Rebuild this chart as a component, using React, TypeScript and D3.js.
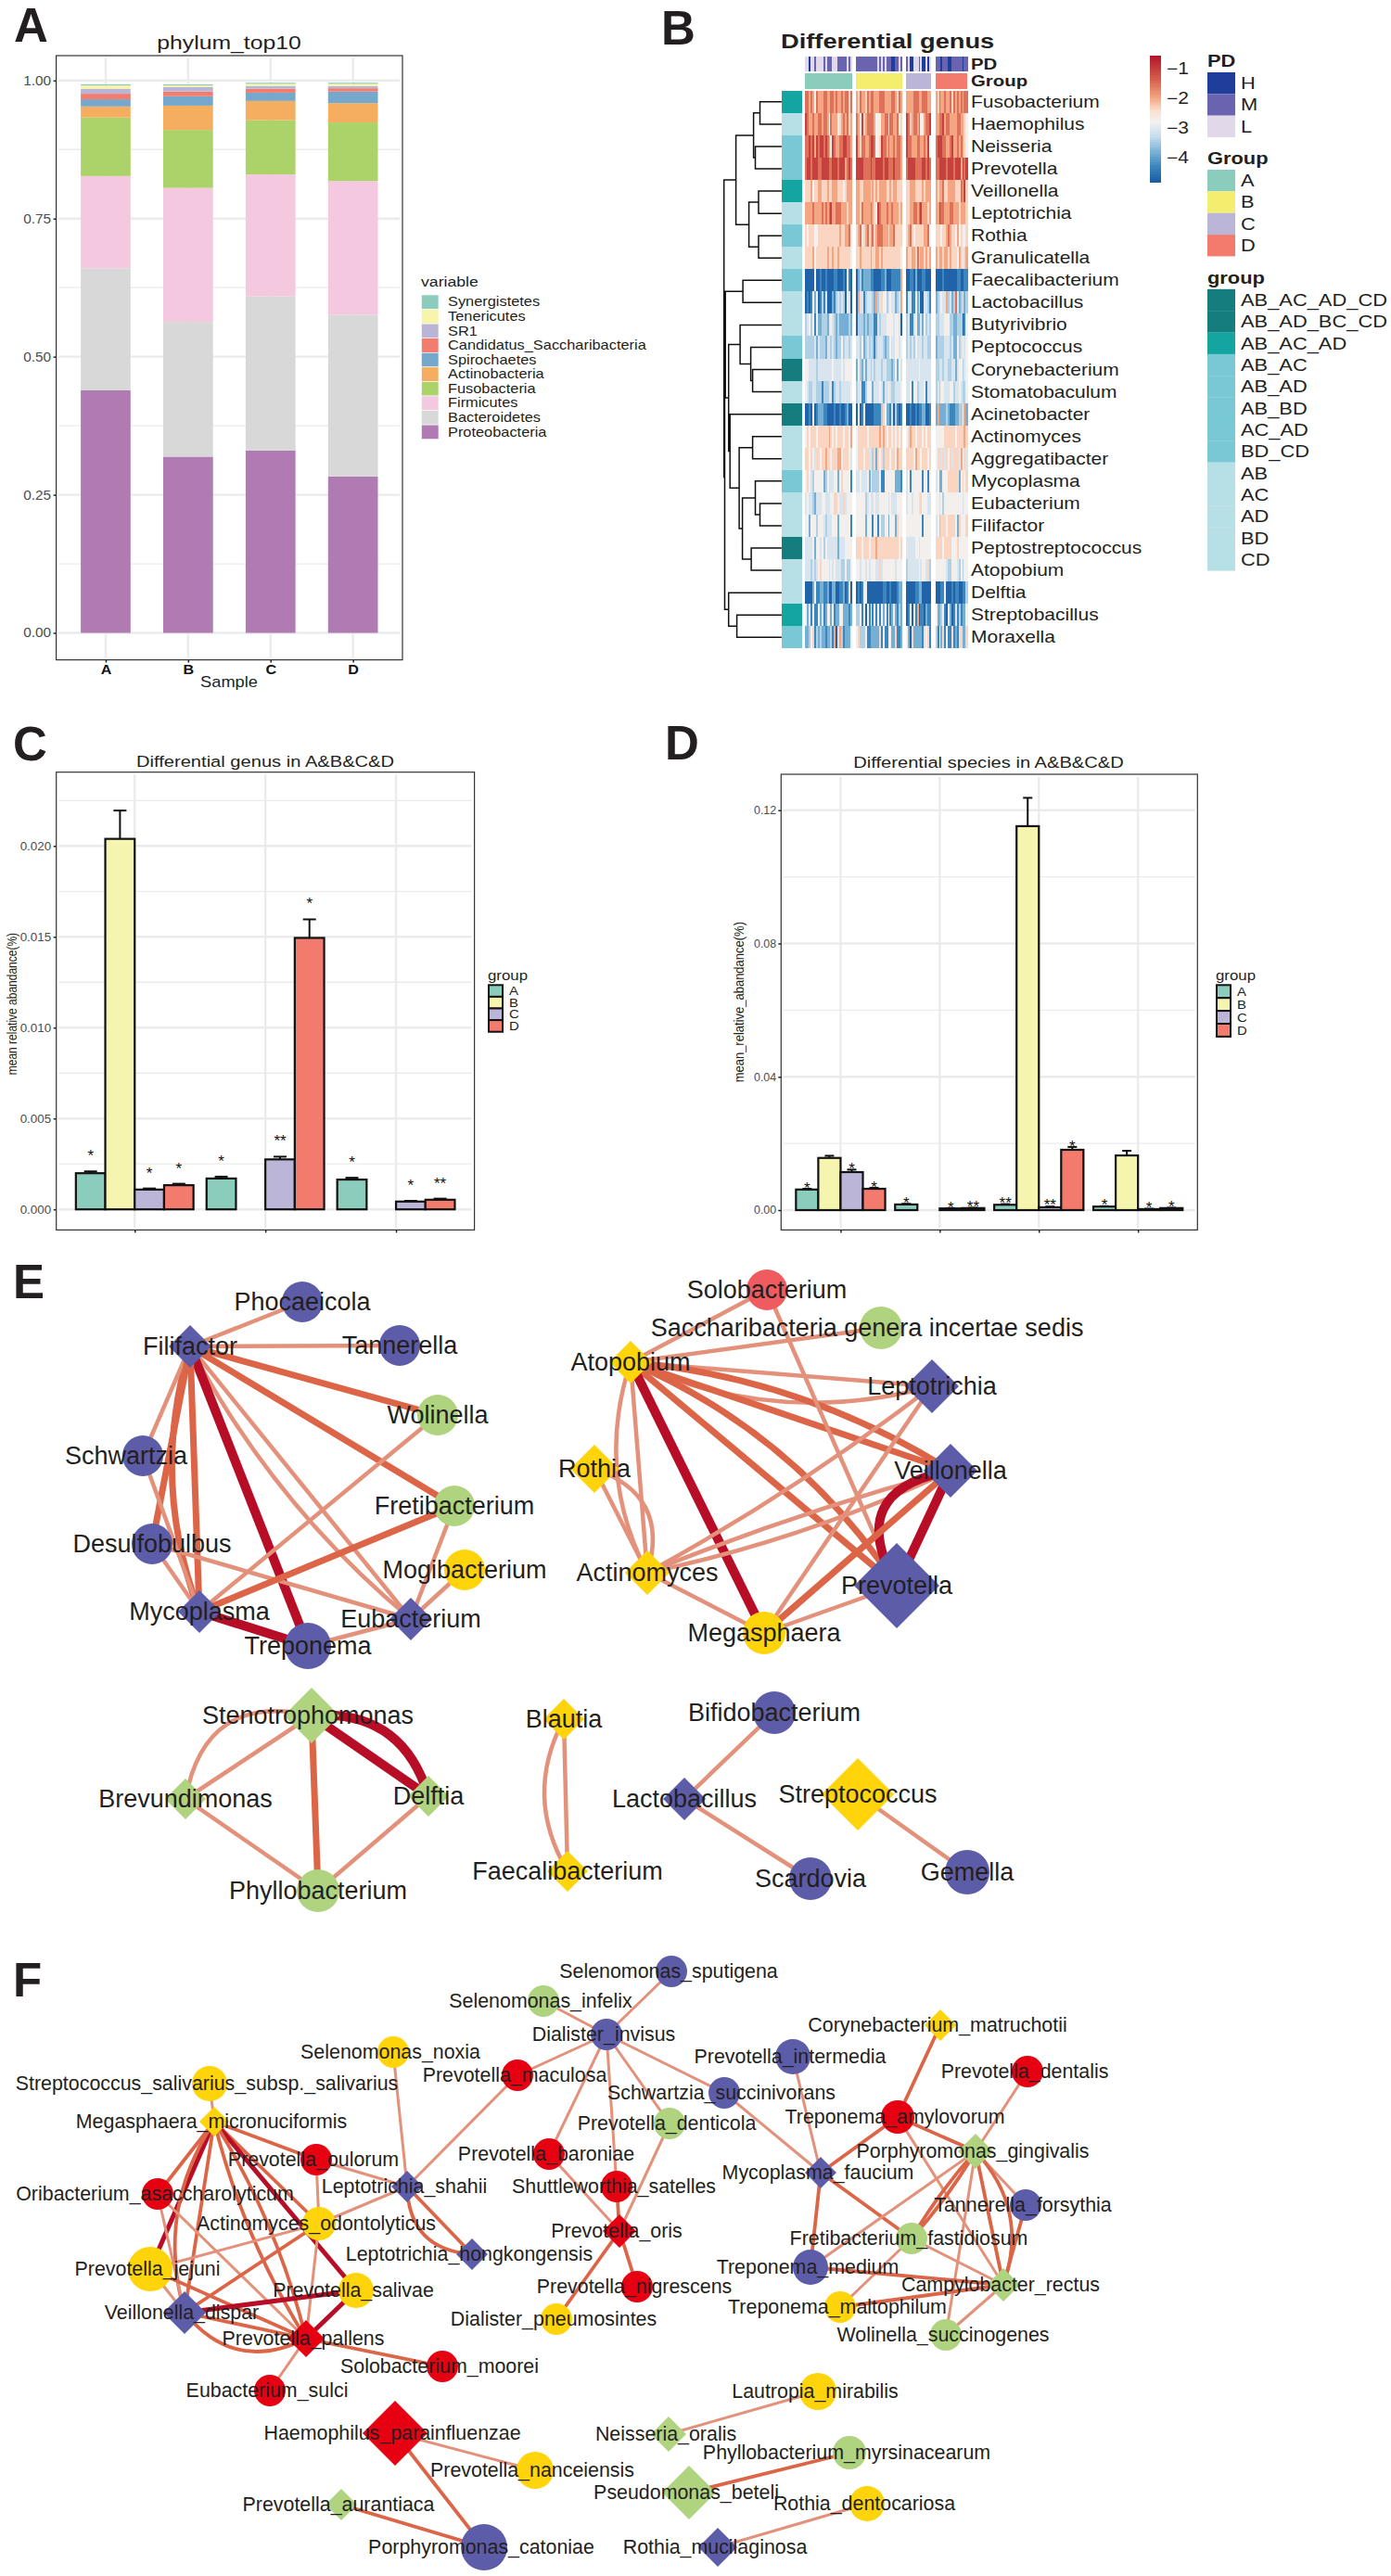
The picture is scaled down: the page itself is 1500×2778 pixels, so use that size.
import { useEffect, useRef } from 'react'
import * as d3 from 'd3'

// ---------- panel A ----------
const sampleNames = ['A', 'B', 'C', 'D']
const phylumNames = [
  'Synergistetes', 'Tenericutes', 'SR1', 'Candidatus_Saccharibacteria', 'Spirochaetes',
  'Actinobacteria', 'Fusobacteria', 'Firmicutes', 'Bacteroidetes', 'Proteobacteria',
]
const phylumColors = ['#8DCCBD', '#F6F5AA', '#B9B5D7', '#F47C6E', '#75A8CB', '#F5AE60', '#ACD26A', '#F4C9DF', '#D8D8D8', '#B07AB2']
const phylumA = [0.002, 0.006, 0.009, 0.01, 0.013, 0.02, 0.106, 0.167, 0.221, 0.439]
const phylumB = [0.002, 0.003, 0.008, 0.0085, 0.017, 0.044, 0.105, 0.2425, 0.244, 0.319]
const phylumC = [0.002, 0.004, 0.005, 0.007, 0.015, 0.035, 0.098, 0.221, 0.279, 0.33]
const phylumD = [0.002, 0.004, 0.004, 0.006, 0.021, 0.035, 0.106, 0.242, 0.293, 0.283]

// ---------- panel B ----------
const genusNames = [
  'Fusobacterium', 'Haemophilus', 'Neisseria', 'Prevotella', 'Veillonella', 'Leptotrichia', 'Rothia', 'Granulicatella',
  'Faecalibacterium', 'Lactobacillus', 'Butyrivibrio', 'Peptococcus', 'Corynebacterium', 'Stomatobaculum', 'Acinetobacter',
  'Actinomyces', 'Aggregatibacter', 'Mycoplasma', 'Eubacterium', 'Filifactor', 'Peptostreptococcus', 'Atopobium',
  'Delftia', 'Streptobacillus', 'Moraxella',
]
const genusClass = [
  'AB_AC_AD', 'AB', 'AB_AC', 'AB_AC', 'AB_AC_AD', 'AB', 'AB_AC', 'AB', 'AB_AC', 'AB', 'AB', 'AB_AC', 'AB_AC_AD_CD', 'AB',
  'AB_AC_AD_CD', 'AB', 'AB', 'AB_AC', 'AB', 'AB', 'AB_AC_AD_CD', 'AB', 'AB', 'AB_AC_AD', 'AB_AC',
]
// one digit per sample, low (blue) to high (red), samples split by group A B C D
const heatRows = [
  '88787587778877887877878868 76877687887778887777887687 77778887788877 768778778687878788',
  '98778778878875877756787867 87596788887555778868877856 98678878557889 778897887777887765',
  '88989798998987598778899887 97688778998556988787787887 98877788778795 899988778977878765',
  '89989998899998899989997898 99998888988999989988898887 89999888899898 889999899989997989',
  '66675667766676677766656777 77667777676767777667677666 66777666676777 767786677776668796',
  '77778777787878977888777677 77687777876598777877877767 66778878977767 779887778877767776',
  '65666556666666666667667785 67856786786788877767786666 67865666667785 666566787665756556',
  '66667566666676676676666665 66766666766776766666666665 76677686776767 767767767666576567',
  '00000500100100001100010510 02312222110000112000111117 00110200011000 000010000000110011',
  '01015250131400021343430540 07441344432734655345442347 14411524004431 234544734238423423',
  '34535152233324543232222232 03332323331143444555545540 34114522425343 334445553322333015',
  '33333424333244343233534434 44352343431344432335445545 34343544434433 233334443422534545',
  '55444434444444454444545555 25324244343444344333235254 44444445444444 334434433442455345',
  '54334433313334413443444445 34411355524445424454334445 44515534445144 343554445534454335',
  '00105012221100001001001200 05015000001111365221403101 00100101122001 272222321112233572',
  '56566656666667656566656657 56666656666667676566565656 56766566656566 555556666665666676',
  '66565466566766566677566654 56665664436265636665665766 66665766566656 566464656466647564',
  '56543555552354445525655551 44544452533335115555552221 45155555515515 452255566666625656',
  '45443244455444556654464555 55555345445445555545444555 45545554655544 554535555555555455',
  '55255535554344455525555551 55555255515515335525552655 55555555515555 453666566665265556',
  '44445255453544444424445555 66656665666766666666666656 44444554555555 666656666555655555',
  '44434345655554545444335335 55455454555446455555554555 34444445455463 555555433555435355',
  '00002511221120022001120160 01015500000000011001000122 00000112200000 000115000101100113',
  '52415115241255251225522212 33515051515151525151252132 01505170110211 522351052014131225',
  '22356132322122317067312225 56333511222226151155226112 52062222214561 315261511612146226',
]
const pdLevels = 'LLHLLMLLLLMLMMMLLLMMMMMLML MMMMMMMMMMMMLMLMLMMMHHMMLM MLHHLLLMLHHLHL MMMHMMMHHMMMMMMHMM'
const pdNames = ['H', 'M', 'L']
const pdColors = ['#1F3E9B', '#6A63AF', '#E1D8EA']
const groupNames = ['A', 'B', 'C', 'D']
const heatGroupColors = ['#8BCDBD', '#F4EE6E', '#BBB6D8', '#F37B6D']
const classNames = ['AB_AC_AD_CD', 'AB_AD_BC_CD', 'AB_AC_AD', 'AB_AC', 'AB_AD', 'AB_BD', 'AC_AD', 'BD_CD', 'AB', 'AC', 'AD', 'BD', 'CD']
const classColors = ['#167D7F', '#167D7F', '#14A5A1', '#78C8D6', '#78C8D6', '#78C8D6', '#78C8D6', '#78C8D6', '#B7E0E6', '#B7E0E6', '#B7E0E6', '#B7E0E6', '#B7E0E6']
const digitValues = [-4.75, -4.3, -3.85, -3.45, -3.1, -2.75, -2.35, -2.0, -1.55, -1.05]
const colorStops = [-4.8, -4.3, -3.8, -3.3, -2.8, -2.4, -2, -1.4, -0.6]
const colorStopValues = ['#1D5FA6', '#3B87BD', '#7DB3D6', '#C6DDEC', '#F2F2F2', '#FBDDCB', '#F4A582', '#D6604D', '#B2182B']

type Tree = { h: number; c: Tree[] } | { leaf: number }
const L = (i: number): Tree => ({ leaf: i })
const M = (h: number, a: Tree, b: Tree): Tree => ({ h, c: [a, b] })
const genusTree: Tree = M(
  62.2,
  M(49.3,
    M(30.3, M(23.4, L(0), L(1)), M(28.4, L(2), L(3))),
    M(35.3, M(24.9, L(4), L(5)), M(24.9, L(6), L(7)))),
  M(61.4,
    M(60.7,
      M(41.8, L(8), L(9)),
      M(57.2,
        M(44.8, L(10), M(33.3, L(11), M(31.3, L(12), L(13)))),
        M(55.7, L(14),
          M(45.8, M(31.3, L(15), L(16)),
            M(42.3, M(28.4, L(17), M(23.4, L(18), L(19))), M(32.8, L(20), L(21))))))),
    M(57.2, L(22), M(48.3, L(23), L(24)))),
)

// ---------- panels C, D ----------
const barGroups = ['A', 'B', 'C', 'D']
const barColors = ['#8BCDBD', '#F6F5B0', '#BBB6D8', '#F37B6D']
const genusSets = ['set1', 'set2', 'set3']
const genusMean = [
  [0.00199, 0.02039, 0.00109, 0.00133],
  [0.0017, 0, 0.00275, 0.01494],
  [0.00164, 0, 0.00043, 0.00053],
]
const genusErr = [
  [0.00209, 0.02195, 0.00115, 0.00141],
  [0.0018, 0, 0.0029, 0.01596],
  [0.00174, 0, 0.00047, 0.00059],
]
const genusStars = [
  ['*', '', '*', '*'],
  ['*', '', '**', '*'],
  ['*', '', '*', '**'],
]
const genusStarAt = [
  [0.00316, 0, 0.00223, 0.00246],
  [0.00287, 0, 0.004, 0.01705],
  [0.00281, 0, 0.00154, 0.00164],
]
const speciesSets = ['set1', 'set2', 'set3', 'set4']
const speciesMean = [
  [0.00618, 0.01565, 0.0114, 0.0064],
  [0.0017, 0, 0.0005, 0.0006],
  [0.0016, 0.1152, 0.00085, 0.0181],
  [0.00106, 0.0164, 0.0003, 0.0006],
]
const speciesErr = [
  [0.0064, 0.0163, 0.01214, 0.0067],
  [0.0019, 0, 0.0006, 0.0007],
  [0.0018, 0.1237, 0.00106, 0.01895],
  [0.00117, 0.0178, 0.0004, 0.0007],
]
const speciesStars = [
  ['*', '', '*', '*'],
  ['*', '', '*', '**'],
  ['**', '', '**', '*'],
  ['*', '', '*', '*'],
]
const speciesStarAt = [
  [0.00777, 0, 0.01352, 0.0082],
  [0.0034, 0, 0.002, 0.00224],
  [0.0033, 0, 0.00277, 0.02044],
  [0.00277, 0, 0.0019, 0.00234],
]

// ---------- panels E, F ----------
type NetNode = [string, number, number, number, string, string, number?]
// name, x, y, size, colour key, shape (c circle / d diamond), label shift
const genusNodes: NetNode[] = [
  ['Phocaeicola', 326, 1404, 22, 'blue', 'c'],
  ['Tannerella', 431, 1451, 22, 'blue', 'c'],
  ['Filifactor', 205, 1452, 23, 'blue', 'd'],
  ['Wolinella', 472, 1526, 22, 'green', 'c'],
  ['Schwartzia', 154, 1570, 22, 'blue', 'c', -18],
  ['Fretibacterium', 490, 1624, 22, 'green', 'c'],
  ['Desulfobulbus', 164, 1665, 22, 'blue', 'c'],
  ['Mogibacterium', 501, 1693, 22, 'yellow', 'c'],
  ['Mycoplasma', 215, 1738, 23, 'blue', 'd'],
  ['Eubacterium', 443, 1746, 23, 'blue', 'd'],
  ['Treponema', 332, 1775, 25, 'blue', 'c'],
  ['Solobacterium', 827, 1391, 22, 'coral', 'c'],
  ['Saccharibacteria genera incertae sedis', 950, 1432, 23, 'green', 'c', -15],
  ['Atopobium', 680, 1469, 23, 'yellow', 'd'],
  ['Leptotrichia', 1005, 1495, 29, 'blue', 'd'],
  ['Veillonella', 1025, 1586, 29, 'blue', 'd'],
  ['Rothia', 641, 1584, 26, 'yellow', 'd'],
  ['Actinomyces', 698, 1696, 24, 'yellow', 'd'],
  ['Prevotella', 967, 1710, 46, 'blue', 'd'],
  ['Megasphaera', 824, 1761, 23, 'yellow', 'c'],
  ['Stenotrophomonas', 336, 1850, 30, 'green', 'd', -4],
  ['Brevundimonas', 200, 1940, 22, 'green', 'd'],
  ['Delftia', 462, 1937, 22, 'green', 'd'],
  ['Phyllobacterium', 343, 2039, 23, 'green', 'c'],
  ['Blautia', 608, 1854, 22, 'yellow', 'd'],
  ['Faecalibacterium', 612, 2018, 22, 'yellow', 'd'],
  ['Bifidobacterium', 835, 1847, 23, 'blue', 'c'],
  ['Lactobacillus', 738, 1940, 23, 'blue', 'd'],
  ['Streptococcus', 925, 1935, 39, 'yellow', 'd'],
  ['Scardovia', 874, 2026, 23, 'blue', 'c'],
  ['Gemella', 1043, 2019, 24, 'blue', 'c'],
]
type NetEdge = [string, string, number, number?]
// source, target, strength class, bend
const genusEdges: NetEdge[] = [
  ['Filifactor', 'Phocaeicola', 1], ['Filifactor', 'Tannerella', 1], ['Filifactor', 'Wolinella', 2],
  ['Filifactor', 'Fretibacterium', 2], ['Filifactor', 'Eubacterium', 1], ['Filifactor', 'Eubacterium', 1, -0.1],
  ['Filifactor', 'Treponema', 3], ['Filifactor', 'Mycoplasma', 2], ['Filifactor', 'Mycoplasma', 2, -0.17],
  ['Filifactor', 'Schwartzia', 1], ['Filifactor', 'Desulfobulbus', 2], ['Schwartzia', 'Mycoplasma', 1],
  ['Desulfobulbus', 'Mycoplasma', 1], ['Desulfobulbus', 'Eubacterium', 1], ['Wolinella', 'Mycoplasma', 1],
  ['Fretibacterium', 'Mycoplasma', 2], ['Fretibacterium', 'Eubacterium', 1], ['Mogibacterium', 'Eubacterium', 1],
  ['Mycoplasma', 'Treponema', 3], ['Treponema', 'Eubacterium', 1],
  ['Atopobium', 'Solobacterium', 1], ['Atopobium', 'Saccharibacteria genera incertae sedis', 1],
  ['Atopobium', 'Leptotrichia', 1], ['Atopobium', 'Leptotrichia', 1, -0.18], ['Atopobium', 'Veillonella', 2],
  ['Atopobium', 'Veillonella', 2, 0.12], ['Atopobium', 'Prevotella', 2], ['Atopobium', 'Prevotella', 2, 0.15],
  ['Atopobium', 'Megasphaera', 3], ['Atopobium', 'Actinomyces', 1], ['Atopobium', 'Actinomyces', 1, -0.21],
  ['Rothia', 'Actinomyces', 1], ['Rothia', 'Actinomyces', 1, 0.48], ['Solobacterium', 'Prevotella', 1],
  ['Leptotrichia', 'Actinomyces', 1, 0.04], ['Leptotrichia', 'Megasphaera', 1], ['Veillonella', 'Actinomyces', 1, 0.06],
  ['Veillonella', 'Actinomyces', 1, -0.03], ['Veillonella', 'Prevotella', 3], ['Veillonella', 'Prevotella', 3, -0.7],
  ['Veillonella', 'Megasphaera', 2], ['Actinomyces', 'Megasphaera', 1], ['Prevotella', 'Megasphaera', 1],
  ['Stenotrophomonas', 'Brevundimonas', 1], ['Stenotrophomonas', 'Brevundimonas', 1, -0.52],
  ['Stenotrophomonas', 'Delftia', 3], ['Stenotrophomonas', 'Delftia', 3, 0.4], ['Stenotrophomonas', 'Phyllobacterium', 2],
  ['Brevundimonas', 'Phyllobacterium', 1], ['Delftia', 'Phyllobacterium', 1],
  ['Blautia', 'Faecalibacterium', 1], ['Blautia', 'Faecalibacterium', 1, -0.28],
  ['Bifidobacterium', 'Lactobacillus', 1], ['Lactobacillus', 'Scardovia', 1], ['Streptococcus', 'Gemella', 1],
]
const speciesNodes: NetNode[] = [
  ['Selenomonas_sputigena', 724, 2126, 17, 'blue', 'c'],
  ['Selenomonas_infelix', 586, 2158, 17, 'green', 'c'],
  ['Dialister_invisus', 654, 2194, 17, 'blue', 'c'],
  ['Selenomonas_noxia', 424, 2213, 17, 'yellow', 'c'],
  ['Prevotella_maculosa', 558, 2238, 17, 'red', 'c'],
  ['Streptococcus_salivarius_subsp._salivarius', 226, 2247, 19, 'yellow', 'c'],
  ['Megasphaera_micronuciformis', 231, 2288, 16, 'yellow', 'd'],
  ['Prevotella_oulorum', 341, 2329, 17, 'red', 'c'],
  ['Oribacterium_asaccharolyticum', 170, 2366, 17, 'red', 'c'],
  ['Leptotrichia_shahii', 439, 2358, 17, 'blue', 'd'],
  ['Actinomyces_odontolyticus', 344, 2398, 18, 'yellow', 'c'],
  ['Prevotella_jejuni', 162, 2447, 24, 'yellow', 'c'],
  ['Leptotrichia_hongkongensis', 509, 2431, 17, 'blue', 'd'],
  ['Prevotella_salivae', 384, 2470, 19, 'yellow', 'c'],
  ['Veillonella_dispar', 199, 2494, 23, 'blue', 'd'],
  ['Prevotella_pallens', 330, 2522, 20, 'red', 'd'],
  ['Solobacterium_moorei', 477, 2552, 17, 'red', 'c'],
  ['Eubacterium_sulci', 291, 2578, 17, 'red', 'c'],
  ['Haemophilus_parainfluenzae', 426, 2624, 35, 'red', 'd'],
  ['Prevotella_nanceiensis', 577, 2664, 20, 'yellow', 'c'],
  ['Prevotella_aurantiaca', 368, 2701, 17, 'green', 'd'],
  ['Porphyromonas_catoniae', 522, 2747, 25, 'blue', 'c'],
  ['Prevotella_baroniae', 592, 2323, 17, 'red', 'c'],
  ['Shuttleworthia_satelles', 665, 2358, 17, 'red', 'c'],
  ['Prevotella_oris', 668, 2406, 18, 'red', 'd'],
  ['Prevotella_nigrescens', 687, 2466, 17, 'red', 'c'],
  ['Dialister_pneumosintes', 600, 2501, 17, 'yellow', 'c'],
  ['Prevotella_denticola', 722, 2290, 17, 'green', 'c'],
  ['Schwartzia_succinivorans', 781, 2257, 17, 'blue', 'c'],
  ['Prevotella_intermedia', 855, 2218, 19, 'blue', 'c'],
  ['Corynebacterium_matruchotii', 1014, 2184, 17, 'yellow', 'd'],
  ['Prevotella_dentalis', 1108, 2234, 17, 'red', 'c'],
  ['Treponema_amylovorum', 968, 2283, 18, 'red', 'c'],
  ['Porphyromonas_gingivalis', 1052, 2320, 19, 'green', 'd'],
  ['Mycoplasma_faucium', 885, 2343, 17, 'blue', 'd'],
  ['Tannerella_forsythia', 1106, 2378, 17, 'blue', 'c'],
  ['Fretibacterium_fastidiosum', 983, 2414, 17, 'green', 'c'],
  ['Treponema_medium', 874, 2445, 19, 'blue', 'c'],
  ['Campylobacter_rectus', 1082, 2464, 18, 'green', 'd'],
  ['Treponema_maltophilum', 906, 2488, 17, 'yellow', 'c'],
  ['Wolinella_succinogenes', 1020, 2518, 17, 'green', 'c'],
  ['Lautropia_mirabilis', 882, 2579, 20, 'yellow', 'c'],
  ['Neisseria_oralis', 721, 2625, 19, 'green', 'd'],
  ['Phyllobacterium_myrsinacearum', 916, 2645, 18, 'green', 'c'],
  ['Pseudomonas_beteli', 743, 2688, 29, 'green', 'd'],
  ['Rothia_dentocariosa', 935, 2700, 19, 'yellow', 'c'],
  ['Rothia_mucilaginosa', 774, 2747, 21, 'blue', 'd'],
]
const speciesEdges: NetEdge[] = [
  ['Dialister_invisus', 'Selenomonas_sputigena', 1], ['Dialister_invisus', 'Selenomonas_infelix', 1],
  ['Dialister_invisus', 'Prevotella_maculosa', 1], ['Dialister_invisus', 'Prevotella_baroniae', 1],
  ['Dialister_invisus', 'Shuttleworthia_satelles', 1], ['Dialister_invisus', 'Prevotella_denticola', 1],
  ['Dialister_invisus', 'Schwartzia_succinivorans', 1], ['Prevotella_maculosa', 'Leptotrichia_shahii', 1],
  ['Selenomonas_noxia', 'Leptotrichia_shahii', 1], ['Prevotella_oulorum', 'Leptotrichia_shahii', 1],
  ['Prevotella_oulorum', 'Megasphaera_micronuciformis', 2], ['Prevotella_oulorum', 'Actinomyces_odontolyticus', 1],
  ['Leptotrichia_shahii', 'Actinomyces_odontolyticus', 1], ['Leptotrichia_shahii', 'Leptotrichia_hongkongensis', 2],
  ['Leptotrichia_shahii', 'Leptotrichia_hongkongensis', 2, -0.45], ['Prevotella_baroniae', 'Prevotella_oris', 1],
  ['Shuttleworthia_satelles', 'Prevotella_oris', 2], ['Prevotella_denticola', 'Prevotella_oris', 1],
  ['Prevotella_nigrescens', 'Prevotella_oris', 2], ['Dialister_pneumosintes', 'Prevotella_oris', 2],
  ['Schwartzia_succinivorans', 'Mycoplasma_faucium', 1], ['Prevotella_intermedia', 'Mycoplasma_faucium', 1],
  ['Streptococcus_salivarius_subsp._salivarius', 'Megasphaera_micronuciformis', 1],
  ['Megasphaera_micronuciformis', 'Oribacterium_asaccharolyticum', 2], ['Megasphaera_micronuciformis', 'Prevotella_jejuni', 3],
  ['Megasphaera_micronuciformis', 'Veillonella_dispar', 2], ['Megasphaera_micronuciformis', 'Veillonella_dispar', 2, -0.23],
  ['Megasphaera_micronuciformis', 'Actinomyces_odontolyticus', 2], ['Megasphaera_micronuciformis', 'Prevotella_salivae', 3],
  ['Megasphaera_micronuciformis', 'Prevotella_pallens', 2, 0.08], ['Megasphaera_micronuciformis', 'Prevotella_pallens', 2, -0.08],
  ['Oribacterium_asaccharolyticum', 'Veillonella_dispar', 1], ['Oribacterium_asaccharolyticum', 'Prevotella_pallens', 1],
  ['Actinomyces_odontolyticus', 'Prevotella_jejuni', 1], ['Actinomyces_odontolyticus', 'Veillonella_dispar', 2],
  ['Actinomyces_odontolyticus', 'Prevotella_pallens', 1], ['Prevotella_jejuni', 'Veillonella_dispar', 1],
  ['Prevotella_jejuni', 'Prevotella_pallens', 2], ['Veillonella_dispar', 'Prevotella_salivae', 3],
  ['Veillonella_dispar', 'Prevotella_pallens', 2], ['Veillonella_dispar', 'Prevotella_pallens', 2, -0.4],
  ['Prevotella_salivae', 'Prevotella_pallens', 3], ['Prevotella_pallens', 'Solobacterium_moorei', 2],
  ['Prevotella_pallens', 'Eubacterium_sulci', 1], ['Haemophilus_parainfluenzae', 'Prevotella_nanceiensis', 1],
  ['Haemophilus_parainfluenzae', 'Porphyromonas_catoniae', 2], ['Prevotella_aurantiaca', 'Porphyromonas_catoniae', 2],
  ['Corynebacterium_matruchotii', 'Treponema_amylovorum', 2], ['Prevotella_dentalis', 'Porphyromonas_gingivalis', 1],
  ['Treponema_amylovorum', 'Porphyromonas_gingivalis', 2], ['Treponema_amylovorum', 'Mycoplasma_faucium', 2],
  ['Treponema_amylovorum', 'Campylobacter_rectus', 1], ['Mycoplasma_faucium', 'Fretibacterium_fastidiosum', 2],
  ['Mycoplasma_faucium', 'Treponema_medium', 2], ['Porphyromonas_gingivalis', 'Treponema_medium', 1],
  ['Porphyromonas_gingivalis', 'Fretibacterium_fastidiosum', 2, 0.05], ['Porphyromonas_gingivalis', 'Fretibacterium_fastidiosum', 2, -0.05],
  ['Porphyromonas_gingivalis', 'Tannerella_forsythia', 1], ['Porphyromonas_gingivalis', 'Campylobacter_rectus', 2],
  ['Porphyromonas_gingivalis', 'Campylobacter_rectus', 2, 0.3], ['Porphyromonas_gingivalis', 'Wolinella_succinogenes', 1],
  ['Tannerella_forsythia', 'Campylobacter_rectus', 2], ['Fretibacterium_fastidiosum', 'Campylobacter_rectus', 1],
  ['Fretibacterium_fastidiosum', 'Treponema_maltophilum', 1], ['Treponema_medium', 'Campylobacter_rectus', 2],
  ['Treponema_maltophilum', 'Campylobacter_rectus', 2], ['Wolinella_succinogenes', 'Campylobacter_rectus', 1],
  ['Lautropia_mirabilis', 'Neisseria_oralis', 1], ['Phyllobacterium_myrsinacearum', 'Pseudomonas_beteli', 2],
  ['Rothia_dentocariosa', 'Rothia_mucilaginosa', 1],
]
const nodeColor = d3.scaleOrdinal<string, string>()
  .domain(['blue', 'green', 'yellow', 'red', 'coral'])
  .range(['#5D5CA8', '#AFD37F', '#FFD40B', '#E60012', '#EF5B5F'])

const FONT = '"Liberation Sans", Arial, sans-serif'
const INK = '#231F20'

function Txt({ x, y, sx = 1, sy = 1, size, children, anchor = 'start', weight, fill = INK, rotate }: any) {
  const tf = `translate(${x},${y})${rotate ? ` rotate(${rotate})` : ''} scale(${sx},${sy})`
  return (
    <text transform={tf} fontSize={size} textAnchor={anchor} fontWeight={weight} fill={fill}>
      {children}
    </text>
  )
}

function Axis({ orient, scale, values, format, at, size, sx = 1, bold, tickSize = 3, pad = 2, color = '#4D4D4D' }: any) {
  const ref = useRef<SVGGElement | null>(null)
  useEffect(() => {
    if (!ref.current) return
    const axis = orient === 'left' ? d3.axisLeft(scale) : d3.axisBottom(scale)
    axis.tickValues(values).tickFormat(format).tickSize(tickSize).tickPadding(pad)
    const g = d3.select(ref.current)
    g.call(axis as any)
    g.attr('font-family', null).attr('font-size', null)
    g.select('.domain').remove()
    g.selectAll('line').attr('stroke', '#222').attr('stroke-width', 1.5)
    g.selectAll('text')
      .attr('font-size', size)
      .attr('fill', color)
      .attr('font-weight', bold ? 'bold' : null)
      .attr('transform', `scale(${sx},1)`)
  }, [])
  return <g ref={ref} transform={at} />
}

function Frame({ x0, x1, y0, y1, major, minor, xs, y }: any) {
  const inset = 2.5
  return (
    <g>
      <g stroke="#EBEBEB">
        {minor.map((v: number) => (
          <line key={v} x1={x0 + inset} x2={x1 - inset} y1={y(v)} y2={y(v)} strokeWidth={1.3} />
        ))}
        {major.map((v: number) => (
          <line key={v} x1={x0 + inset} x2={x1 - inset} y1={y(v)} y2={y(v)} strokeWidth={2.4} />
        ))}
        {xs.map((v: number) => (
          <line key={v} x1={v} x2={v} y1={y0 + inset} y2={y1 - inset} strokeWidth={2.4} />
        ))}
      </g>
    </g>
  )
}

function PanelA() {
  const x = d3.scalePoint<string>().domain(sampleNames).range([60.6, 434]).padding(0.6)
  const y = d3.scaleLinear().domain([0, 1]).range([682.5, 86.8])
  const barW = 53.7
  const table = sampleNames.map((s, i) => {
    const row: any = { sample: s }
    const src = [phylumA, phylumB, phylumC, phylumD][i]
    phylumNames.forEach((p, k) => (row[p] = src[k]))
    return row
  })
  const order = [...phylumNames].reverse()
  const series = d3.stack<any>().keys(order)(table)
  const color = d3.scaleOrdinal<string, string>().domain(phylumNames).range(phylumColors)
  return (
    <g>
      <Frame x0={60.6} x1={434} y0={60} y1={711.6} y={y} major={[0, 0.25, 0.5, 0.75, 1]} minor={[0.125, 0.375, 0.625, 0.875]}
        xs={sampleNames.map((s) => x(s)!)} />
      {series.map((s) =>
        s.map((d) => (
          <rect key={s.key + d.data.sample} x={x(d.data.sample)! - barW / 2} width={barW} y={y(d[1])} height={y(d[0]) - y(d[1])} fill={color(s.key)} />
        )),
      )}
      <rect x={60.6} y={60} width={373.4} height={651.6} fill="none" stroke="#333" strokeWidth={1.2} />
      <Axis orient="left" scale={y} values={[0, 0.25, 0.5, 0.75, 1]} format={d3.format('.2f')} at="translate(60.6,0)" size={14} sx={1.1} />
      <Axis orient="bottom" scale={x} values={sampleNames} format={(d: string) => d} at="translate(0,711.6)" size={14} sx={1.15} bold color="#111" />
      <Txt x={247} y={53} sx={1.18} size={21} anchor="middle">phylum_top10</Txt>
      <Txt x={247} y={741} sx={1.14} size={16} anchor="middle">Sample</Txt>
      <Txt x={454} y={309} sx={1.14} size={15.5}>variable</Txt>
      {phylumNames.map((p, i) => {
        const ly = 318 + i * 15.57
        return (
          <g key={p}>
            <rect x={454.5} y={ly} width={18.5} height={15.57} fill={color(p)} stroke="#fff" strokeWidth={0.6} />
            <Txt x={483} y={ly + 12.4} sx={1.17} size={14}>{p}</Txt>
          </g>
        )
      })}
    </g>
  )
}

function PanelB() {
  const rowScale = d3.scaleBand<string>().domain(genusNames).range([97.8, 699.3])
  const groupX = d3.scaleOrdinal<string, [number, number]>().domain(groupNames)
    .range([[868.3, 918.7], [923.3, 972.7], [977, 1004], [1008.7, 1043.3]])
  const heat = d3.scaleLinear<string>().domain(colorStops).range(colorStopValues)
  const classColor = d3.scaleOrdinal<string, string>().domain(classNames).range(classColors)
  const pdColor = d3.scaleOrdinal<string, string>().domain(pdNames).range(pdColors)
  const stripes = (key: string, parts: string[], yy: number, hh: number, fillOf: (c: string) => string) =>
    parts.map((part, g) => {
      const [a, b] = groupX(groupNames[g])
      const cx = d3.scaleBand<number>().domain(d3.range(part.length)).range([a, b])
      return part.split('').map((c, i) => (
        <rect key={key + g + '-' + i} x={cx(i)} y={yy} width={cx.bandwidth() + 0.4} height={hh} fill={fillOf(c)} />
      ))
    })
  // dendrogram
  const root = d3.hierarchy<any>(genusTree, (d: any) => d.c)
  const dx = d3.scaleLinear().domain([0, 62.2]).range([842.9, 780.7])
  root.eachAfter((n: any) => {
    n.py = n.children ? d3.mean(n.children, (c: any) => c.py) : rowScale(genusNames[n.data.leaf])! + rowScale.bandwidth() / 2
    n.px = dx(n.children ? n.data.h : 0)
  })
  const dendro = d3.path()
  root.each((n: any) => {
    if (!n.children) return
    const [a, b] = n.children
    dendro.moveTo(a.px, a.py)
    dendro.lineTo(n.px, a.py)
    dendro.lineTo(n.px, b.py)
    dendro.lineTo(b.px, b.py)
  })
  const bar = d3.scaleLinear().domain([-0.6, -4.85]).range([60, 196])
  const legendRow = 23.35
  return (
    <g>
      <Txt x={842} y={52} sx={1.24} size={22} weight="bold">Differential genus</Txt>
      <g shapeRendering="crispEdges">
        {stripes('pd', pdLevels.split(' '), 61, 16, (c) => pdColor(c))}
        {groupNames.map((g, i) => {
          const [a, b] = groupX(g)
          return <rect key={g} x={a} y={79} width={b - a} height={16.5} fill={heatGroupColors[i]} />
        })}
        {genusNames.map((name, r) => (
          <g key={name}>
            <rect x={843.4} y={rowScale(name)} width={21.4} height={rowScale.bandwidth()} fill={classColor(genusClass[r])} />
            {stripes(name, heatRows[r].split(' '), rowScale(name)!, rowScale.bandwidth(), (c) => heat(digitValues[+c]))}
          </g>
        ))}
        {d3.range(-0.6, -4.85, -0.05).map((v) => (
          <rect key={v} x={1240} y={bar(v)} width={12} height={2.2} fill={heat(v)} />
        ))}
      </g>
      <path d={dendro.toString()} fill="none" stroke="#111" strokeWidth={1.5} />
      <Txt x={1047} y={75} sx={1.2} size={17} weight="bold">PD</Txt>
      <Txt x={1047} y={93} sx={1.2} size={17} weight="bold">Group</Txt>
      {genusNames.map((name) => (
        <Txt key={name} x={1047} y={rowScale(name)! + 18} sx={1.2} size={17.5}>{name}</Txt>
      ))}
      {[-1, -2, -3, -4].map((v) => (
        <Txt key={v} x={1258} y={bar(v) + 7} sx={1.2} size={17.5}>{'\u2212' + Math.abs(v)}</Txt>
      ))}
      <Txt x={1302} y={72} sx={1.25} size={17.5} weight="bold">PD</Txt>
      {pdNames.map((n, i) => (
        <g key={n}>
          <rect x={1302} y={78 + i * legendRow} width={30} height={legendRow} fill={pdColors[i]} />
          <Txt x={1338} y={78 + i * legendRow + 18} sx={1.25} size={17.5}>{n}</Txt>
        </g>
      ))}
      <Txt x={1302} y={177} sx={1.25} size={17.5} weight="bold">Group</Txt>
      {groupNames.map((n, i) => (
        <g key={n}>
          <rect x={1302} y={183 + i * legendRow} width={30} height={legendRow} fill={heatGroupColors[i]} />
          <Txt x={1338} y={183 + i * legendRow + 18} sx={1.25} size={17.5}>{n}</Txt>
        </g>
      ))}
      <Txt x={1302} y={306} sx={1.25} size={17.5} weight="bold">group</Txt>
      {classNames.map((n, i) => (
        <g key={n}>
          <rect x={1302} y={311.8 + i * legendRow} width={30} height={legendRow + 0.2} fill={classColors[i]} />
          <Txt x={1338} y={311.8 + i * legendRow + 18} sx={1.25} size={17.5}>{n}</Txt>
        </g>
      ))}
    </g>
  )
}

function BarPanel({ sets, means, errs, stars, starAt, x0, x1, y0, y1, y, major, minor, format, title, titleX, ylabel, ylabelX, ylabelY, ylabelSize, ylabelWide, tickRightSx, legendX, legendTop, legendH, legendW, capW, titleY }: any) {
  const x = d3.scalePoint<string>().domain(sets).range([x0, x1]).padding(0.6)
  const inner = d3.scaleBand<string>().domain(barGroups).range([-x.step() * 0.45, x.step() * 0.45])
  const color = d3.scaleOrdinal<string, string>().domain(barGroups).range(barColors)
  return (
    <g>
      <Frame x0={x0} x1={x1} y0={y0} y1={y1} y={y} major={major} minor={minor} xs={sets.map((s: string) => x(s)!)} />
      {sets.map((s: string, i: number) =>
        barGroups.map((g, k) => {
          const cx = x(s)! + inner(g)! + inner.bandwidth() / 2
          return (
            <g key={s + g}>
              {means[i][k] > 0 && (
                <g stroke="#111" strokeWidth={2}>
                  <line x1={cx} x2={cx} y1={y(means[i][k])} y2={y(errs[i][k])} />
                  <line x1={cx - capW / 2} x2={cx + capW / 2} y1={y(errs[i][k])} y2={y(errs[i][k])} />
                </g>
              )}
              <rect x={x(s)! + inner(g)!} width={inner.bandwidth()} y={y(means[i][k])} height={y(0) - y(means[i][k])} fill={color(g)} stroke="#111" strokeWidth={2.2} />
              {stars[i][k] && (
                <Txt x={cx} y={y(starAt[i][k]) + 10} size={17} anchor="middle" fill="#111">{stars[i][k]}</Txt>
              )}
            </g>
          )
        }),
      )}
      <rect x={x0} y={y0} width={x1 - x0} height={y1 - y0} fill="none" stroke="#333" strokeWidth={1.2} />
      <Axis orient="left" scale={y} values={major} format={d3.format(format)} at={`translate(${x0},0)`} size={12.2} sx={tickRightSx} />
      <Axis orient="bottom" scale={x} values={sets} format={() => ''} at={`translate(0,${y1})`} size={1} />
      <Txt x={titleX} y={titleY} sx={1.22} size={16.5} anchor="middle">{title}</Txt>
      <Txt x={ylabelX} y={ylabelY} sy={ylabelWide} size={ylabelSize} anchor="middle" rotate={-90}>{ylabel}</Txt>
      <Txt x={legendX} y={legendTop - 5} sx={1.16} size={14.5}>group</Txt>
      {barGroups.map((g, i) => (
        <g key={g}>
          <rect x={legendX + 1} y={legendTop + i * legendH} width={legendW} height={legendH} fill={color(g)} stroke="#111" strokeWidth={2} />
          <Txt x={legendX + legendW + 8} y={legendTop + i * legendH + legendH - 2} sx={1.15} size={13}>{g}</Txt>
        </g>
      ))}
    </g>
  )
}

function Network({ nodes, edges, widths, fontSize, labelShift = 0 }: { nodes: NetNode[]; edges: NetEdge[]; widths: number[]; fontSize: number; labelShift?: number }) {
  const px = d3.scaleIdentity()
  const byName = new Map(nodes.map((n) => [n[0], n]))
  const edgeColor = d3.scaleOrdinal<number, string>().domain([1, 2, 3]).range(['#E3917A', '#DC6547', '#B80D26'])
  const edgeWidth = d3.scaleOrdinal<number, number>().domain([1, 2, 3]).range(widths)
  const outline = d3.line().curve(d3.curveLinearClosed)
  const edgePath = ([s, t, , bend = 0]: NetEdge) => {
    const a = byName.get(s)!
    const b = byName.get(t)!
    const [ax, ay, bx, by] = [px(a[1]), px(a[2]), px(b[1]), px(b[2])]
    const p = d3.path()
    p.moveTo(ax, ay)
    p.quadraticCurveTo((ax + bx) / 2 + bend * (by - ay), (ay + by) / 2 - bend * (bx - ax), bx, by)
    return p.toString()
  }
  return (
    <g>
      {edges.map((e, i) => (
        <path key={i} d={edgePath(e)} fill="none" stroke={edgeColor(e[2])} strokeWidth={edgeWidth(e[2])} />
      ))}
      {nodes.map(([name, x, y, r, c, shape]) =>
        shape === 'c' ? (
          <circle key={name} cx={px(x)} cy={px(y)} r={r} fill={nodeColor(c)} />
        ) : (
          <path key={name} d={outline([[x, y - r], [x + r, y], [x, y + r], [x - r, y]])!} fill={nodeColor(c)} />
        ),
      )}
      {nodes.map(([name, x, y, , , , shift]) => (
        <Txt key={name} x={px(x) + (shift ?? labelShift)} y={px(y) + fontSize * 0.35} size={fontSize} anchor="middle">{name}</Txt>
      ))}
    </g>
  )
}

const panelLetters: [string, number, number][] = [
  ['A', 15, 45], ['B', 713, 48], ['C', 14, 820], ['D', 717, 819], ['E', 14, 1400], ['F', 14, 2153],
]

export default function App() {
  const yGenus = d3.scaleLinear().domain([0, 0.02]).range([1304.2, 912.3])
  const ySpecies = d3.scaleLinear().domain([0, 0.12]).range([1305, 873.7])
  return (
    <svg width={1500} height={2778} style={{ position: 'absolute', left: 0, top: 0, background: '#fff' }} fontFamily={FONT}>
      {panelLetters.map(([t, x, y]) => (
        <Txt key={t} x={x} y={y} size={51} weight="bold">{t}</Txt>
      ))}
      <PanelA />
      <PanelB />
      <BarPanel sets={genusSets} means={genusMean} errs={genusErr} stars={genusStars} starAt={genusStarAt}
        x0={60.7} x1={511.6} y0={832.7} y1={1326.4} y={yGenus}
        major={[0, 0.005, 0.01, 0.015, 0.02]} minor={[0.0025, 0.0075, 0.0125, 0.0175, 0.0225]} format=".3f"
        title="Differential genus in A&B&C&D" titleX={286} titleY={827}
        ylabel="mean relative abandance(%)" ylabelX={18} ylabelY={1082.6} ylabelSize={12} ylabelWide={1.2} tickRightSx={1.1}
        legendX={526} legendTop={1062.3} legendH={12.6} legendW={15} capW={14} />
      <BarPanel sets={speciesSets} means={speciesMean} errs={speciesErr} stars={speciesStars} starAt={speciesStarAt}
        x0={842.3} x1={1291.3} y0={835} y1={1326.4} y={ySpecies}
        major={[0, 0.04, 0.08, 0.12]} minor={[0.02, 0.06, 0.1]} format=".2f"
        title="Differential species in A&B&C&D" titleX={1066} titleY={828}
        ylabel="mean_relative_abandance(%)" ylabelX={802} ylabelY={1080.7} ylabelSize={13} ylabelWide={1.15} tickRightSx={1.02}
        legendX={1311} legendTop={1062.3} legendH={13.9} legendW={15} capW={10} />
      <Network nodes={genusNodes} edges={genusEdges} widths={[4.5, 7, 10]} fontSize={27} />
      <Network nodes={speciesNodes} edges={speciesEdges} widths={[3, 3.8, 5]} fontSize={21.4} labelShift={-3} />
    </svg>
  )
}
